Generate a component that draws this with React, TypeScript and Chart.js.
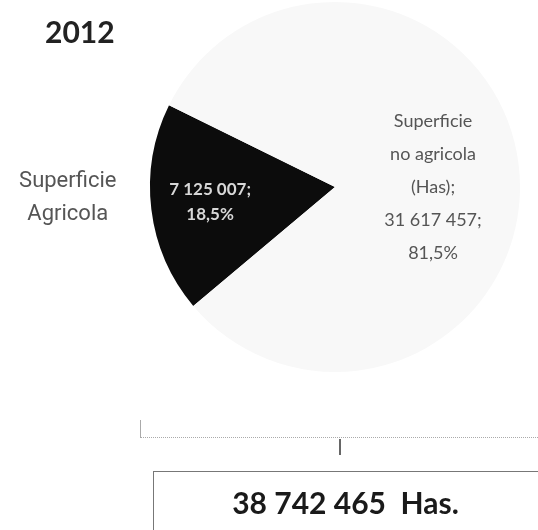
import React, { useEffect, useRef } from "react";
import { Chart, registerables } from "chart.js";

Chart.register(...registerables);

const categories = ["Superficie Agricola", "Superficie no agricola (Has)"];
const values = [7125007, 31617457];
const valueLabels = ["7 125 007;", "31 617 457;"];
const percentLabels = ["18,5%", "81,5%"];
const titleText = "2012";
const totalText = "38 742 465  Has.";

const labelPlugin = {
  id: "sliceLabels",
  afterDatasetsDraw(chart: any) {
    const ctx = chart.ctx;
    const meta = chart.getDatasetMeta(0);
    const arcs = meta.data;
    ctx.save();
    ctx.textAlign = "center";
    ctx.textBaseline = "middle";
    {
      const a: any = arcs[0];
      const mid = (a.startAngle + a.endAngle) / 2;
      const r = a.outerRadius;
      const ix = a.x + Math.cos(mid) * r * 0.68;
      const iy = a.y + Math.sin(mid) * r * 0.68;
      ctx.fillStyle = "#d8d8d8";
      ctx.font = "bold 17px Lato, 'Open Sans', sans-serif";
      ctx.fillText(valueLabels[0], ix, iy - 13);
      ctx.fillText(percentLabels[0], ix, iy + 12);
      const ox = a.x + Math.cos(mid) * r * 1.455;
      const oy = a.y + Math.sin(mid) * r * 0.5;
      ctx.fillStyle = "#555";
      ctx.font = "22px Roboto, 'Liberation Sans', sans-serif";
      const words = categories[0].split(" ");
      ctx.fillText(words[0], ox, oy - 17);
      ctx.fillText(words[1], ox, oy + 16);
    }
    {
      const a: any = arcs[1];
      const r = a.outerRadius;
      const x = a.x + r * 0.53;
      const y = a.y;
      const lines = ["Superficie", "no agricola", "(Has);", valueLabels[1], percentLabels[1]];
      ctx.fillStyle = "#555";
      ctx.font = "18px Lato, 'Open Sans', sans-serif";
      lines.forEach((t, i) => {
        ctx.fillText(t, x, y - 66 + i * 33);
      });
    }
    ctx.restore();
  },
};

export default function App() {
  const canvasRef = useRef<HTMLCanvasElement | null>(null);
  useEffect(() => {
    document.body.style.margin = "0";
    const chart = new Chart(canvasRef.current!, {
      type: "pie",
      data: {
        labels: categories,
        datasets: [
          {
            data: values,
            backgroundColor: ["#0c0c0c", "#f8f8f8"],
            borderWidth: 0,
          },
        ],
      },
      options: {
        animation: false,
        responsive: false,
        rotation: 230,
        layout: { padding: { left: 150, right: 18, top: 2, bottom: 158 } },
        plugins: {
          legend: { display: false },
          tooltip: { enabled: false },
          title: { display: false },
        },
      },
      plugins: [labelPlugin],
    });
    return () => chart.destroy();
  }, []);

  return (
    <div
      style={{
        position: "fixed",
        left: 0,
        top: 0,
        width: 538,
        height: 530,
        background: "#fff",
        overflow: "hidden",
      }}
    >
      <canvas ref={canvasRef} width={538} height={530} style={{ position: "absolute", left: 0, top: 0 }} />
      <div
        style={{
          position: "absolute",
          left: 45,
          top: 13,
          font: "bold 30px Lato, 'Open Sans', sans-serif",
          color: "#222",
        }}
      >
        {titleText}
      </div>
      <div style={{ position: "absolute", left: 140, top: 420, width: 1, height: 17, background: "#aaa" }} />
      <div style={{ position: "absolute", left: 140, top: 437, width: 398, height: 0, borderTop: "1px dotted #aaa" }} />
      <div style={{ position: "absolute", left: 339, top: 439, width: 2, height: 16, background: "#666" }} />
      <div
        style={{
          position: "absolute",
          left: 153,
          top: 471,
          width: 400,
          height: 80,
          border: "1px solid #777",
          boxSizing: "border-box",
        }}
      />
      <div
        style={{
          position: "absolute",
          left: 153,
          top: 484,
          width: 385,
          textAlign: "center",
          font: "bold 30px Lato, 'Open Sans', sans-serif",
          color: "#1a1a1a",
          whiteSpace: "pre",
        }}
      >
        {totalText}
      </div>
    </div>
  );
}
